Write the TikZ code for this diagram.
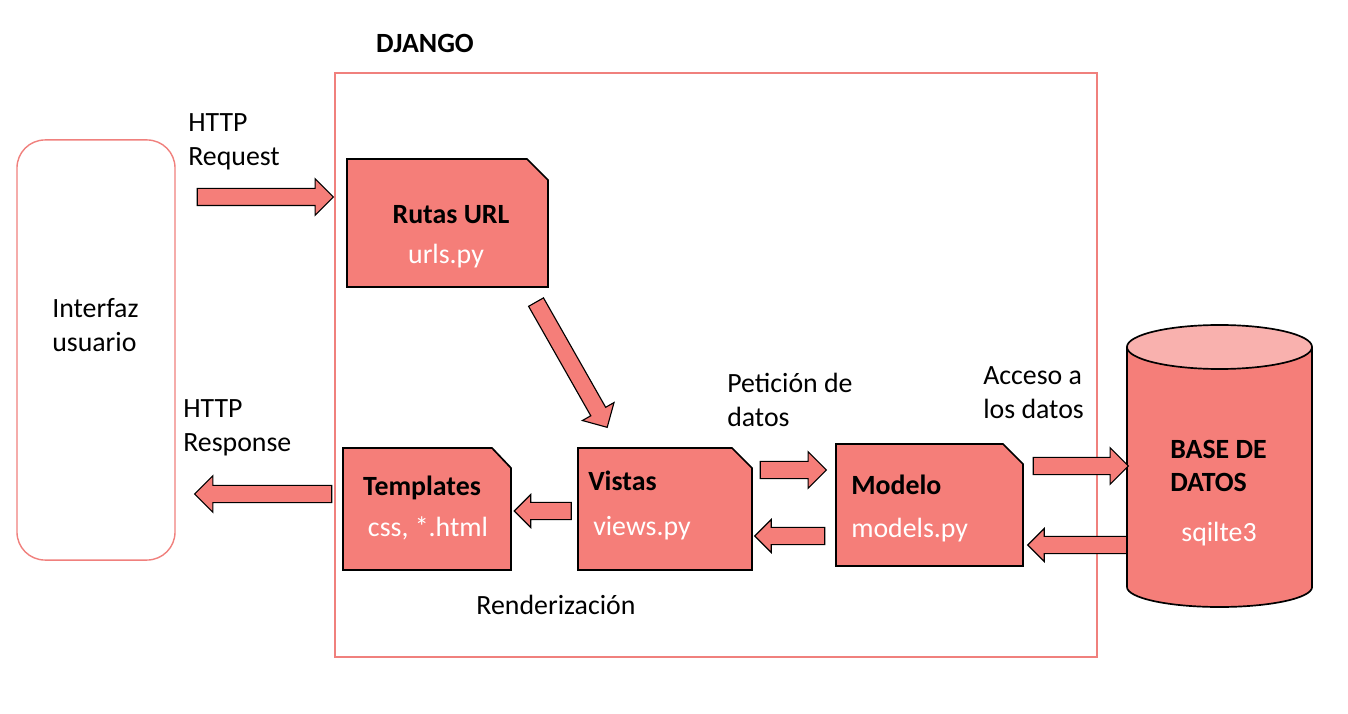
\documentclass[tikz,border=0pt]{standalone}
\usepackage{fontspec}
\setmainfont{Carlito}
\usetikzlibrary{shapes.arrows}
\definecolor{salmon}{RGB}{245,126,121}
\definecolor{salmonlight}{RGB}{249,177,174}
\definecolor{frameline}{RGB}{240,128,125}

\begin{document}
\begin{tikzpicture}[x = 0.025cm, y = -0.025cm,
		every node/.style = {font = \fontsize{19.8}{24}\selectfont, inner sep = 0pt},
		boldtext/.style = {font = \fontsize{19.8}{24}\selectfont\bfseries},
		docbox/.style = {draw = black, fill = salmon, line width = 1.2pt},
		fatarrow/.style = {single arrow, draw = black, fill = salmon, line width = 0.8pt, text height = 0.4cm, text depth = 0pt, single arrow head extend = #1},
		fatarrow/.default = 0.24cm]
		\useasboundingbox (0,0) rectangle (1348,714);
		% frames
		\node[draw = frameline, line width = 1pt, minimum width = 19.05cm, minimum height = 14.6cm] (django) at (716,365){};
		\node[boldtext] (djangoT) at (425,43){DJANGO};
		\node[draw = frameline, line width = 1pt, rounded corners = 0.7cm, minimum width = 3.95cm, minimum height = 10.5cm] (ui) at (96,350){};
		\node[anchor = west, align = left] (uiT) at (52,325){Interfaz\\usuario};
		% boxes
		\draw[docbox] (347,159) -- (527,159) -- (548,180) -- (548,287) -- (347,287) -- cycle;
		\draw[docbox] (343,448) -- (492,448) -- (511,468) -- (511,570) -- (343,570) -- cycle;
		\draw[docbox] (578,448) -- (732,448) -- (752,468) -- (752,570) -- (578,570) -- cycle;
		\draw[docbox] (836,444) -- (1003,444) -- (1023,464) -- (1023,566) -- (836,566) -- cycle;
		\node[boldtext] (rutasT) at (451,215){Rutas URL};
		\node[text = white] (rutasS) at (446,256){urls.py};
		\node[boldtext] (templatesT) at (422,488){Templates};
		\node[text = white] (templatesS) at (428,528){css, *.html};
		\node[anchor = west, boldtext] (vistasT) at (588,481){Vistas};
		\node[anchor = west, text = white] (vistasS) at (593,528){views.py};
		\node[anchor = west, boldtext] (modeloT) at (851,485){Modelo};
		\node[anchor = west, text = white] (modeloS) at (851,530){models.py};
		% database
		\draw[fill = salmon, line width = 1.2pt] (1127,347) -- (1127,587) arc[start angle = 180, end angle = 360, x radius = 2.3125cm, y radius = 0.5cm] -- (1312,347);
		\draw[fill = salmonlight, line width = 1.2pt] (1219.5,347) ellipse [x radius = 2.3125cm, y radius = 0.55cm];
		\node[anchor = west, align = left, boldtext] (dbT) at (1170,466){BASE DE\\DATOS};
		\node[text = white] (dbS) at (1219,534){sqilte3};
		% arrows
		\node[fatarrow, minimum height = 3.4cm] (a1) at (261,197){};
		\node[fatarrow, rotate = 180, minimum height = 3.425cm] (a2) at (267.5,494){};
		\node[fatarrow, rotate = -60.4, minimum height = 3.6cm] (a3) at (569.5,361){};
		\node[fatarrow = 0.2cm, rotate = 180, minimum height = 1.425cm] (a4) at (547,511){};
		\node[fatarrow, minimum height = 1.65cm] (a5) at (789,470){};
		\node[fatarrow = 0.2cm, rotate = 180, minimum height = 1.75cm] (a6) at (794,536){};
		\node[fatarrow, minimum height = 2.375cm] (a7) at (1076.5,466){};
		\node[fatarrow = 0.2cm, rotate = 180, minimum height = 2.475cm] (a8) at (1081.5,545){};
		% labels
		\node[anchor = west, align = left] (n1) at (188,142){HTTP\\Request};
		\node[anchor = west, align = left] (n2) at (183,428){HTTP\\Response};
		\node[anchor = west, align = left] (n3) at (727,400){Petición de\\datos};
		\node[anchor = west, align = left] (n4) at (983,393){Acceso a\\los datos};
		\node (n5) at (556,605){Renderización};
\end{tikzpicture}
\end{document}
